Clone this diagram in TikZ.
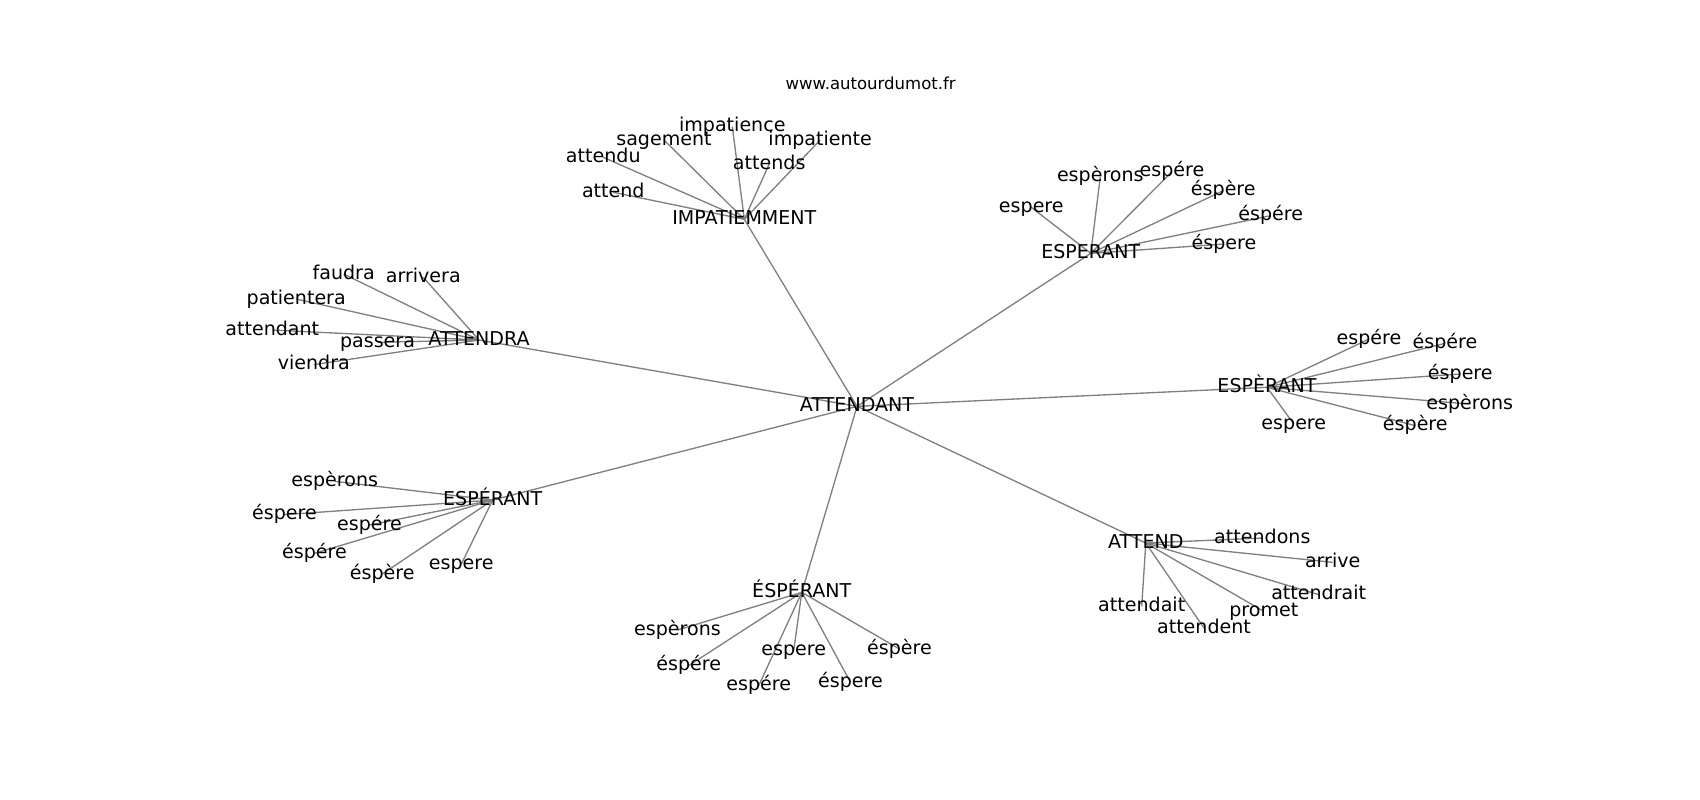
\documentclass[tikz,border=0pt]{standalone}
\usepackage{fontspec}
\setmainfont{DejaVu Sans}
\usetikzlibrary{backgrounds}

\tikzset{
  word/.style={anchor=base,yshift=-2pt,inner sep=0pt,text height=1.05em,text depth=0.25em,font=\fontsize{14.3}{17}\selectfont},
  link/.style={draw=gray,line width=1pt}
}

\begin{document}
\begin{tikzpicture}[x=0.75pt,y=-0.75pt]
            \useasboundingbox (0,0) rectangle (1700,800);
            \node[anchor=base,yshift=-1pt,font=\fontsize{12.4}{14}\selectfont] (title) at (870.7,88.3) {www.autourdumot.fr};

            % centre and its seven neighbours
            \node[word] (hub) at (857,409) {ATTENDANT};
            \node[word] (impat) at (744.3,222) {IMPATIEMMENT};
            \node[word] (esp) at (1090.8,256) {ESPERANT};
            \node[word] (attdra) at (479,342.7) {ATTENDRA};
            \node[word] (espgrave) at (1267,390) {ESPÈRANT};
            \node[word] (espacute) at (492.7,502.7) {ESPÉRANT};
            \node[word] (espboth) at (801.8,595) {ÉSPÉRANT};
            \node[word] (att) at (1145.8,545.7) {ATTEND};

            \begin{scope}[on background layer]
                \foreach \b in {impat,esp,attdra,espgrave,espacute,espboth,att}
                    \draw[link] (hub.center) -- (\b.center);
            \end{scope}

            % leaves of each neighbour
            \foreach[count=\i] \x/\y/\txt in {732.3/129.3/impatience,664/142.7/sagement,820.2/142.7/impatiente,603.3/160/attendu,769.2/166.7/attends,613.3/195/attend} {
                \node[word] (impat-\i) at (\x,\y) {\txt};
                \begin{scope}[on background layer]\draw[link] (impat.center) -- (impat-\i.center);\end{scope}
            }

            \foreach[count=\i] \x/\y/\txt in {1031.3/210/espere,1100.3/179.3/espèrons,1172/174.3/espére,1223.3/193.3/éspère,1270.7/218.3/éspére,1224/246.7/éspere} {
                \node[word] (esp-\i) at (\x,\y) {\txt};
                \begin{scope}[on background layer]\draw[link] (esp.center) -- (esp-\i.center);\end{scope}
            }

            \foreach[count=\i] \x/\y/\txt in {343.7/276.7/faudra,423.3/280/arrivera,296.2/301.7/patientera,272.3/332.7/attendant,377.5/345/passera,313.8/367.3/viendra} {
                \node[word] (attdra-\i) at (\x,\y) {\txt};
                \begin{scope}[on background layer]\draw[link] (attdra.center) -- (attdra-\i.center);\end{scope}
            }

            \foreach[count=\i] \x/\y/\txt in {1369/341.7/espére,1445/346/éspére,1460.3/376.7/éspere,1469.7/406.7/espèrons,1415.3/428.3/éspère,1293.8/426.7/espere} {
                \node[word] (espgrave-\i) at (\x,\y) {\txt};
                \begin{scope}[on background layer]\draw[link] (espgrave.center) -- (espgrave-\i.center);\end{scope}
            }

            \foreach[count=\i] \x/\y/\txt in {334.7/484/espèrons,284.5/517.3/éspere,369.5/527.7/espére,314.5/556/éspére,382.2/576.7/éspère,461.3/566.7/espere} {
                \node[word] (espacute-\i) at (\x,\y) {\txt};
                \begin{scope}[on background layer]\draw[link] (espacute.center) -- (espacute-\i.center);\end{scope}
            }

            \foreach[count=\i] \x/\y/\txt in {677.5/632.7/espèrons,688.7/668.3/éspére,793.7/653.3/espere,758.7/688.3/espére,850.5/685/éspere,899.5/651.7/éspère} {
                \node[word] (espboth-\i) at (\x,\y) {\txt};
                \begin{scope}[on background layer]\draw[link] (espboth.center) -- (espboth-\i.center);\end{scope}
            }

            \foreach[count=\i] \x/\y/\txt in {1262.3/540.7/attendons,1332.7/565/arrive,1318.7/597.3/attendrait,1141.7/609/attendait,1263.8/614/promet,1204/630.7/attendent} {
                \node[word] (att-\i) at (\x,\y) {\txt};
                \begin{scope}[on background layer]\draw[link] (att.center) -- (att-\i.center);\end{scope}
            }
        \end{tikzpicture}
\end{document}
